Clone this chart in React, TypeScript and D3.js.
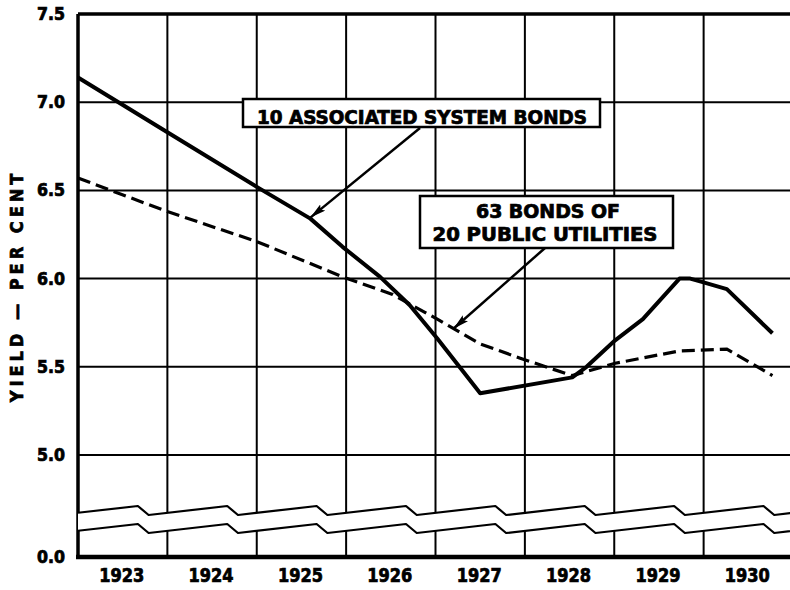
import React from 'react';
import * as d3 from 'd3';

// 10 associated system bonds (solid line)
const systemYears = [1923.0, 1924.0, 1925.0, 1925.6, 1925.96, 1926.38, 1926.71, 1927.02, 1927.5, 1928.53, 1928.69, 1929.01, 1929.32, 1929.73, 1929.85, 1929.99, 1930.26, 1930.77];
const systemYield = [7.14, 6.83, 6.52, 6.34, 6.18, 6.01, 5.85, 5.66, 5.35, 5.44, 5.5, 5.65, 5.77, 6.0, 6.0, 5.98, 5.94, 5.69];

// 63 bonds of 20 public utilities (dashed line)
const utilityYears = [1923.0, 1924.0, 1925.0, 1925.96, 1926.52, 1927.02, 1927.5, 1927.94, 1928.53, 1929.01, 1929.73, 1930.26, 1930.77];
const utilityYield = [6.57, 6.38, 6.21, 6.01, 5.91, 5.77, 5.63, 5.55, 5.45, 5.52, 5.59, 5.6, 5.45];

const yearLabels = ['1923', '1924', '1925', '1926', '1927', '1928', '1929', '1930'];
const yTicks = [0, 5.0, 5.5, 6.0, 6.5, 7.0, 7.5];

const FONT = '"DejaVu Sans Condensed", "DejaVu Sans", sans-serif';
// heavy lettering, like the stencil text of the original
const ink = { fontFamily: FONT, fontWeight: 'bold' as const, stroke: '#000', strokeWidth: 0.7, fill: '#000' };

export default function App() {
  const width = 790;
  const height = 590;

  const x = d3.scaleLinear().domain([1923, 1931]).range([78, 793]);
  // broken axis: 0 .. 5 is squeezed below the break
  const y = d3.scaleLinear().domain([0, 5, 7.5]).range([557, 455, 14]);

  const line = d3.line<[number, number]>()
    .x(d => x(d[0]))
    .y(d => y(d[1]));

  const systemPts = systemYears.map((t, i) => [t, systemYield[i]] as [number, number]);
  const utilityPts = utilityYears.map((t, i) => [t, utilityYield[i]] as [number, number]);

  // break marks (zig-zag) between 0 and 5
  const upperTrough = 515;
  const upperPeak = 506;
  const gap = 18;
  const zig = (off: number) => {
    const pts: [number, number][] = [];
    const slope = (upperTrough - upperPeak) / (x(1923.67) - x(1922.78));
    pts.push([x(1923), upperTrough - slope * (x(1923) - x(1922.78)) + off]);
    for (let yr = 1923; yr <= 1931; yr++) {
      pts.push([x(yr + 0.67), upperPeak + off]);
      pts.push([x(yr + 0.79), upperTrough + off]);
    }
    return pts;
  };
  const upper = zig(0);
  const lower = zig(gap);
  const bandPath = 'M' + upper.map(p => p.join(',')).join('L') + 'L' + lower.slice().reverse().map(p => p.join(',')).join('L') + 'Z';
  const zigPath = (pts: [number, number][]) => 'M' + pts.map(p => p.join(',')).join('L');

  const gridYears = d3.range(1924, 1931);
  const gridVals = [5.0, 5.5, 6.0, 6.5, 7.0];

  return (
    <svg width={width} height={height} style={{ position: 'absolute', left: 0, top: 0, background: '#fff' }}>
      <defs>
        <marker id="arrow" viewBox="0 0 16 8" refX="16" refY="4" markerWidth="16" markerHeight="8" markerUnits="userSpaceOnUse" orient="auto">
          <path d="M0,0 L16,4 L0,8 L3,4 Z" fill="#000" />
        </marker>
      </defs>
      <rect x={0} y={0} width={width} height={height} fill="#fff" />

      {/* grid */}
      {gridYears.map(yr => (
        <line key={yr} x1={x(yr)} x2={x(yr)} y1={y(7.5)} y2={y(0)} stroke="#000" strokeWidth={2} />
      ))}
      {gridVals.map(v => (
        <line key={v} x1={x(1923)} x2={width} y1={y(v)} y2={y(v)} stroke="#000" strokeWidth={2} />
      ))}
      <line x1={x(1923)} x2={width} y1={y(7.5)} y2={y(7.5)} stroke="#000" strokeWidth={3.5} />
      <line x1={x(1923)} x2={x(1923)} y1={y(7.5)} y2={y(0)} stroke="#000" strokeWidth={3.5} />
      <line x1={x(1923) - 2} x2={width} y1={y(0)} y2={y(0)} stroke="#000" strokeWidth={4.5} />

      {/* axis break */}
      <path d={bandPath} fill="#fff" stroke="none" />
      <path d={zigPath(upper)} fill="none" stroke="#000" strokeWidth={2.2} strokeLinejoin="round" />
      <path d={zigPath(lower)} fill="none" stroke="#000" strokeWidth={2.2} strokeLinejoin="round" />

      {/* series */}
      <path d={line(utilityPts) || ''} fill="none" stroke="#000" strokeWidth={3.2} strokeDasharray="13 6" />
      <path d={line(systemPts) || ''} fill="none" stroke="#000" strokeWidth={4} strokeLinejoin="round" />

      {/* y tick labels */}
      {yTicks.map(v => (
        <text key={v} x={65} y={y(v) + 6} textAnchor="end" {...ink} fontSize={17}
          textLength={28} lengthAdjust="spacingAndGlyphs">{v.toFixed(1)}</text>
      ))}

      {/* x labels */}
      {yearLabels.map((s, i) => (
        <text key={s} x={x(1923 + i + 0.5) - 1} y={582} textAnchor="middle" {...ink} fontSize={19}
          textLength={45} lengthAdjust="spacingAndGlyphs">{s}</text>
      ))}

      {/* y axis title */}
      <text transform="translate(23,286) rotate(-90)" textAnchor="middle" {...ink} fontSize={18}
        letterSpacing={4}>YIELD — PER CENT</text>

      {/* annotation 1 */}
      <line x1={420} y1={128} x2={x(1925.6)} y2={y(6.34) - 1} stroke="#000" strokeWidth={2.5} markerEnd="url(#arrow)" />
      <rect x={243} y={99} width={357} height={28} fill="#fff" stroke="#000" strokeWidth={2.5} />
      <text x={422} y={124} textAnchor="middle" {...ink} fontSize={19}
        textLength={330} lengthAdjust="spacingAndGlyphs">10 ASSOCIATED SYSTEM BONDS</text>

      {/* annotation 2 */}
      <line x1={545} y1={248} x2={x(1927.2)} y2={y(5.71) - 1} stroke="#000" strokeWidth={2.5} markerEnd="url(#arrow)" />
      <rect x={420} y={196} width={253} height={52} fill="#fff" stroke="#000" strokeWidth={2.5} />
      <text x={548} y={218} textAnchor="middle" {...ink} fontSize={19}
        textLength={144} lengthAdjust="spacingAndGlyphs">63 BONDS OF</text>
      <text x={545} y={241} textAnchor="middle" {...ink} fontSize={19}
        textLength={225} lengthAdjust="spacingAndGlyphs">20 PUBLIC UTILITIES</text>
    </svg>
  );
}
